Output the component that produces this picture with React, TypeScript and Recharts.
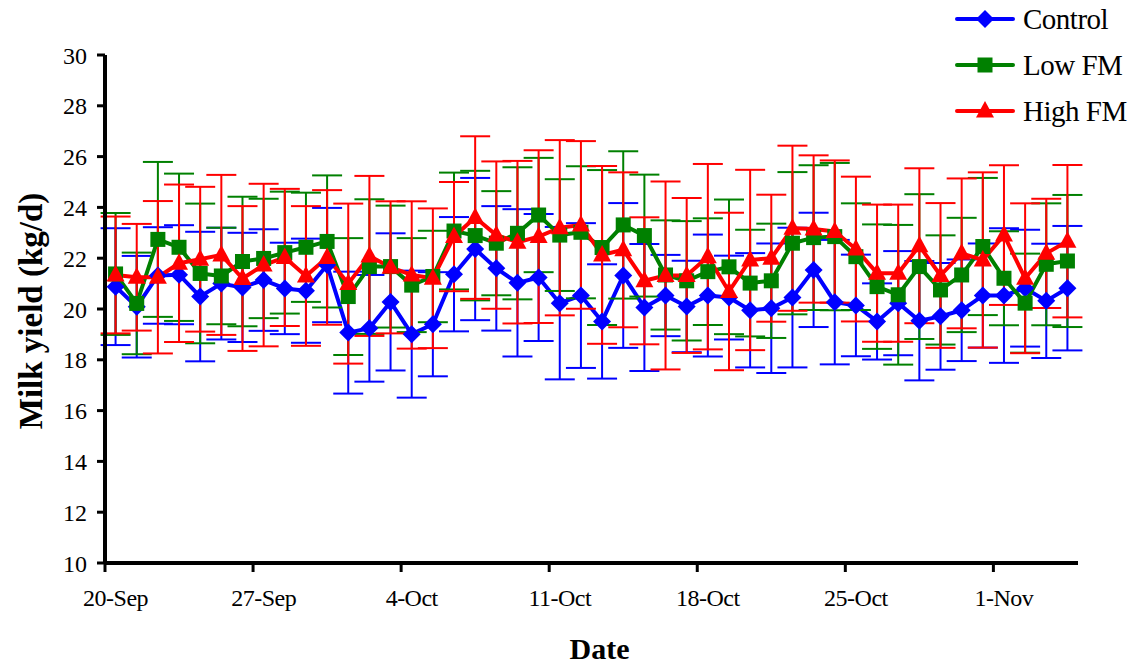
import { ComposedChart, Line, XAxis, YAxis, ErrorBar, Legend, Label } from "recharts"

// Daily milk yield from 20-Sep (day 0) to 4-Nov (day 45), mean ± SD
const control = [
  20.88, 20.09, 21.32, 21.35, 20.49, 21.0, 20.85, 21.14, 20.81, 20.72,
  21.73, 19.07, 19.24, 20.28, 19.01, 19.4, 21.37, 22.36, 21.6, 21.03,
  21.24, 20.23, 20.53, 19.51, 21.32, 20.06, 20.53, 20.1, 20.53, 20.45,
  19.95, 20.03, 20.45, 21.54, 20.27, 20.14, 19.51, 20.23, 19.54, 19.71,
  19.95, 20.53, 20.53, 20.82, 20.32, 20.82,
]
const controlSd = [
  2.3, 2.0, 1.9, 1.95, 2.55, 2.2, 2.15, 2.0, 1.8, 2.05,
  2.25, 2.4, 2.1, 2.7, 2.5, 2.05, 2.25, 2.8, 2.45, 2.9,
  2.5, 3.0, 2.85, 2.25, 2.85, 2.5, 1.6, 1.8, 2.4, 1.65,
  2.25, 2.55, 2.75, 2.25, 2.45, 2.0, 1.5, 2.05, 2.35, 2.1,
  2.0, 2.05, 2.65, 2.3, 2.25, 2.45,
]
const lowFm = [
  21.38, 20.22, 22.74, 22.43, 21.4, 21.3, 21.87, 21.99, 22.22, 22.43,
  22.66, 20.49, 21.67, 21.67, 20.94, 21.28, 23.07, 22.89, 22.59, 22.98,
  23.7, 22.91, 23.02, 22.42, 23.31, 22.89, 21.34, 21.11, 21.47, 21.66,
  21.02, 21.11, 22.59, 22.81, 22.85, 22.06, 20.88, 20.56, 21.67, 20.75,
  21.34, 22.46, 21.21, 20.23, 21.76, 21.89,
]
const lowFmSd = [
  2.4, 2.0, 3.05, 2.9, 2.75, 1.9, 2.55, 2.35, 2.4, 2.15,
  2.6, 2.3, 2.65, 2.4, 1.85, 1.8, 2.3, 2.55, 2.05, 2.6,
  2.25, 2.2, 2.6, 3.05, 2.9, 2.4, 2.15, 2.35, 2.1, 2.65,
  2.1, 2.25, 2.8, 2.85, 2.9, 2.1, 2.45, 2.75, 2.85, 2.15,
  2.25, 2.7, 1.85, 1.95, 2.4, 2.6,
]
const highFm = [
  21.34, 21.25, 21.25, 21.8, 21.96, 22.13, 21.2, 21.73, 22.03, 21.3,
  22.03, 21.0, 22.09, 21.64, 21.34, 21.21, 22.85, 23.6, 22.91, 22.63,
  22.85, 23.2, 23.31, 22.13, 22.33, 21.11, 21.32, 21.32, 22.06, 20.69,
  21.93, 22.0, 23.18, 23.15, 23.05, 22.36, 21.41, 21.41, 22.49, 21.32,
  22.19, 21.93, 22.91, 21.21, 22.19, 22.67,
]
const highFmSd = [
  2.3, 2.1, 3.0, 3.1, 2.85, 3.15, 2.85, 3.2, 2.7, 2.75,
  2.65, 3.15, 3.15, 2.6, 2.9, 2.75, 2.15, 3.2, 2.9, 3.2,
  3.4, 3.45, 3.3, 3.5, 3.05, 2.5, 3.7, 3.05, 3.65, 3.1,
  3.55, 2.5, 3.25, 2.9, 2.8, 2.85, 2.7, 2.7, 3.05, 2.85,
  2.95, 3.45, 2.75, 2.95, 2.15, 3.0,
]

const tickDays = [0, 7, 14, 21, 28, 35, 42]
const tickLabels = ["20-Sep", "27-Sep", "4-Oct", "11-Oct", "18-Oct", "25-Oct", "1-Nov"]
const yTicks = [10, 12, 14, 16, 18, 20, 22, 24, 26, 28, 30]

const data = control.map((v, i) => ({
  day: i,
  control: v,
  controlSd: controlSd[i],
  lowFm: lowFm[i],
  lowFmSd: lowFmSd[i],
  highFm: highFm[i],
  highFmSd: highFmSd[i],
}))

const BLUE = "#0000FF"
const GREEN = "#008000"
const RED = "#FF0000"
const FONT = '"Liberation Serif", "Times New Roman", Times, serif'

const W = 1135
const H = 664
const MARGIN = { top: 55, right: 57, bottom: 2, left: 0 }
const Y_AXIS_W = 105
const X_AXIS_H = 99
const PLOT_W = W - MARGIN.right - Y_AXIS_W
const PLOT_BOTTOM = H - MARGIN.bottom - X_AXIS_H
// days are drawn in the middle of their slot, ticks sit on slot edges
const SLOT = PLOT_W / data.length

type Shape = "diamond" | "square" | "triangle"

function Marker({ shape, cx, cy, color }: { shape: Shape; cx: number; cy: number; color: string }) {
  if (shape === "diamond") {
    const r = 9
    return <polygon points={`${cx},${cy - r} ${cx + r},${cy} ${cx},${cy + r} ${cx - r},${cy}`} fill={color} />
  }
  if (shape === "square") {
    return <rect x={cx - 7.5} y={cy - 7.5} width={15} height={15} fill={color} />
  }
  return <polygon points={`${cx},${cy - 10} ${cx + 9},${cy + 6.5} ${cx - 9},${cy + 6.5}`} fill={color} />
}

function dotFor(shape: Shape, color: string) {
  return (props: any) => {
    const { cx, cy, index } = props
    if (cx == null || cy == null) return <g key={`${shape}-${index}`} />
    return (
      <g key={`${shape}-${index}`}>
        <Marker shape={shape} cx={cx} cy={cy} color={color} />
      </g>
    )
  }
}

function DateTick(props: any) {
  const { x, payload } = props
  const label = tickLabels[tickDays.indexOf(payload.value)]
  const edge = x - SLOT / 2
  return (
    <g>
      <line x1={edge} y1={PLOT_BOTTOM} x2={edge} y2={PLOT_BOTTOM + 9} stroke="#000" strokeWidth={3} />
      <text x={x} y={606} textAnchor="middle" fontSize={24} letterSpacing={-0.5} fill="#000" fontFamily={FONT}>
        {label}
      </text>
    </g>
  )
}

const legendItems: { name: string; color: string; shape: Shape }[] = [
  { name: "Control", color: BLUE, shape: "diamond" },
  { name: "Low FM", color: GREEN, shape: "square" },
  { name: "High FM", color: RED, shape: "triangle" },
]

function LegendBox() {
  return (
    <div style={{ fontFamily: FONT, fontSize: 29, letterSpacing: -0.5, color: "#000" }}>
      {legendItems.map((item) => (
        <div key={item.name} style={{ display: "flex", alignItems: "center", height: 46 }}>
          <svg width={60} height={24} style={{ display: "block" }}>
            <line x1={2} y1={12} x2={58} y2={12} stroke={item.color} strokeWidth={4} strokeLinecap="round" />
            <Marker shape={item.shape} cx={30} cy={12} color={item.color} />
          </svg>
          <span style={{ marginLeft: 8, lineHeight: 1 }}>{item.name}</span>
        </div>
      ))}
    </div>
  )
}

function DateTitle(props: any) {
  const { viewBox } = props
  return (
    <text
      x={viewBox.x + viewBox.width / 2 + 8}
      y={viewBox.y + viewBox.height - 3}
      textAnchor="middle"
      fontSize={30}
      fontWeight="bold"
      fill="#000"
      fontFamily={FONT}
    >
      Date
    </text>
  )
}

function YieldTitle(props: any) {
  const { viewBox } = props
  const x = 42
  const y = viewBox.y + viewBox.height / 2 + 2
  return (
    <text
      x={x}
      y={y}
      transform={`rotate(-90 ${x} ${y})`}
      textAnchor="middle"
      fontSize={33}
      fontWeight="bold"
      fill="#000"
      fontFamily={FONT}
    >
      Milk yield (kg/d)
    </text>
  )
}

export default function App() {
  return (
    <div style={{ position: "absolute", left: 0, top: 0, width: W, height: H, background: "#fff" }}>
      <ComposedChart width={W} height={H} data={data} margin={MARGIN} style={{ fontFamily: FONT }}>
        <XAxis
          dataKey="day"
          type="number"
          domain={[-0.5, data.length - 0.5]}
          ticks={tickDays}
          interval={0}
          tickLine={false}
          tick={(p: any) => <DateTick {...p} />}
          axisLine={{ stroke: "#000", strokeWidth: 4 }}
          height={X_AXIS_H}
          label={<Label content={DateTitle} />}
        />
        <YAxis
          type="number"
          domain={[10, 30]}
          ticks={yTicks}
          interval={0}
          width={Y_AXIS_W}
          tickSize={8}
          tickMargin={10}
          tick={{ fontSize: 24, fill: "#000", fontFamily: FONT }}
          tickLine={{ stroke: "#000", strokeWidth: 3 }}
          axisLine={{ stroke: "#000", strokeWidth: 4 }}
          label={<Label content={YieldTitle} />}
        />
        {/* horizontal + middle + center keeps the legend out of the plot offset */}
        <Legend
          layout="horizontal"
          verticalAlign="middle"
          align="center"
          wrapperStyle={{ left: 955, top: -4, width: 180 }}
          content={() => <LegendBox />}
        />
        <Line
          dataKey="control"
          stroke={BLUE}
          strokeWidth={4}
          strokeLinejoin="round"
          dot={dotFor("diamond", BLUE)}
          activeDot={false}
          isAnimationActive={false}
        >
          <ErrorBar dataKey="controlSd" direction="y" width={15} stroke={BLUE} strokeWidth={2} />
        </Line>
        <Line
          dataKey="lowFm"
          stroke={GREEN}
          strokeWidth={4}
          strokeLinejoin="round"
          dot={dotFor("square", GREEN)}
          activeDot={false}
          isAnimationActive={false}
        >
          <ErrorBar dataKey="lowFmSd" direction="y" width={15} stroke={GREEN} strokeWidth={2} />
        </Line>
        <Line
          dataKey="highFm"
          stroke={RED}
          strokeWidth={4}
          strokeLinejoin="round"
          dot={dotFor("triangle", RED)}
          activeDot={false}
          isAnimationActive={false}
        >
          <ErrorBar dataKey="highFmSd" direction="y" width={15} stroke={RED} strokeWidth={2} />
        </Line>
      </ComposedChart>
    </div>
  )
}
